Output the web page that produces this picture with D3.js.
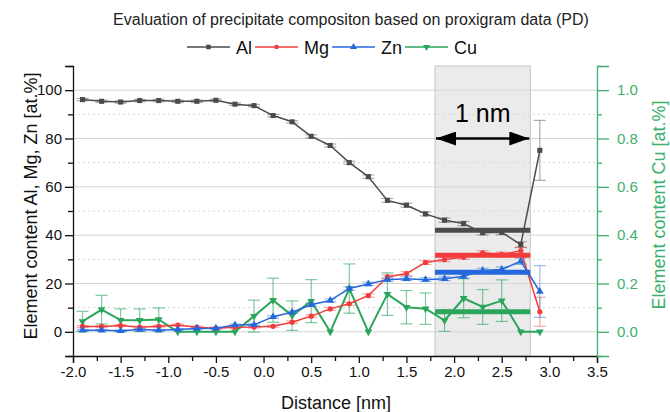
<!DOCTYPE html>
<html>
<head>
<meta charset="utf-8">
<script src="https://cdn.jsdelivr.net/npm/d3@7"></script>
<style>
  body { margin: 0; background: #fff; }
  svg text { font-family: "Liberation Sans", Arial, sans-serif; }
</style>
</head>
<body>
<svg id="chart" width="670" height="412"></svg>
<script>
// distances (nm)
var distance = [-1.9, -1.7, -1.5, -1.3, -1.1, -0.9, -0.7, -0.5, -0.3, -0.1, 0.1, 0.3, 0.5,
                0.7, 0.9, 1.1, 1.3, 1.5, 1.7, 1.9, 2.1, 2.3, 2.5, 2.7, 2.9];

// element content [at.%]
var al = [96.1, 95.4, 95.1, 95.7, 95.7, 95.4, 95.4, 95.8, 94.2, 93.6, 89.5, 86.9, 80.9,
          77.1, 70.0, 64.2, 54.4, 52.4, 48.8, 46.2, 44.8, 41.0, 41.2, 36.1, 75.1];
var alErr = [0.5, 0.5, 0.5, 0.5, 0.5, 0.5, 0.5, 0.5, 0.5, 0.5, 0.5, 0.5, 0.6,
             0.6, 0.6, 0.7, 0.8, 0.8, 0.8, 0.9, 0.9, 0.9, 1.0, 1.2, 12.4];
var mg = [2.2, 2.2, 2.6, 1.9, 2.3, 2.8, 1.9, 1.5, 1.9, 2.0, 2.3, 4.0, 6.5,
          9.5, 11.6, 15.0, 22.7, 24.1, 28.7, 29.9, 30.9, 32.7, 32.0, 33.6, 8.3];
var mgErr = [0.4, 0.4, 0.4, 0.4, 0.4, 0.4, 0.4, 0.4, 0.4, 0.4, 0.4, 0.5, 0.5,
             0.6, 0.6, 0.7, 0.8, 0.8, 0.8, 0.9, 0.9, 0.9, 1.0, 1.4, 6.0];
var zn = [0.7, 0.7, 0.4, 1.0, 0.7, 1.0, 1.4, 1.5, 2.8, 2.9, 6.2, 8.1, 11.2,
          13.0, 17.9, 19.8, 21.6, 22.0, 21.6, 22.0, 23.0, 25.4, 25.8, 29.2, 16.7];
var znErr = [0.3, 0.3, 0.3, 0.3, 0.3, 0.3, 0.3, 0.3, 0.4, 0.4, 0.5, 0.5, 0.6,
             0.6, 0.7, 0.7, 0.8, 0.8, 0.8, 0.8, 0.9, 0.9, 1.0, 1.3, 10.7];
// Cu on the right axis
var cu = [0.043, 0.092, 0.048, 0.048, 0.051, 0.0, 0.0, 0.0, 0.0, 0.065, 0.131, 0.067, 0.127,
          0.0, 0.179, 0.0, 0.156, 0.102, 0.096, 0.047, 0.139, 0.103, 0.129, 0.0, 0.0];
var cuErr = [0.042, 0.059, 0.047, 0.047, 0.048, 0, 0, 0, 0, 0.066, 0.091, 0.061, 0.089,
             0, 0.102, 0, 0.088, 0.069, 0.065, 0.045, 0.081, 0.072, 0.086, 0, 0];

// precipitate averages (1 nm window)
var bandRange = [1.8, 2.8];
var meanAl = 42.0, meanMg = 31.7, meanZn = 24.7, meanCu = 0.083;

// ticks
var xTicks = [-2.0, -1.5, -1.0, -0.5, 0.0, 0.5, 1.0, 1.5, 2.0, 2.5, 3.0, 3.5];
var xMinor = [-1.75, -1.25, -0.75, -0.25, 0.25, 0.75, 1.25, 1.75, 2.25, 2.75, 3.25];
var yTicks = [0, 20, 40, 60, 80, 100];
var yMinor = [-10, 10, 30, 50, 70, 90, 110];
var y2Ticks = [0.0, 0.2, 0.4, 0.6, 0.8, 1.0];
var y2Minor = [-0.1, 0.1, 0.3, 0.5, 0.7, 0.9, 1.1];

var cAl = "#4b4b4b", cMg = "#f23c3c", cZn = "#2468dc", cCu = "#2ba45c", cAxis2 = "#3cb06c";

var svg = d3.select("#chart");
var x = d3.scaleLinear().domain([-2, 3.5]).range([73, 597]);
var y = d3.scaleLinear().domain([-10, 110]).range([356, 66]);
var y2 = d3.scaleLinear().domain([-0.1, 1.1]).range([356, 66]);

// grid
svg.append("g").selectAll("line").data(yMinor.filter(function (d) { return d > -10 && d < 110; }))
  .join("line")
  .attr("x1", x(-2)).attr("x2", x(3.5))
  .attr("y1", function (d) { return y(d); }).attr("y2", function (d) { return y(d); })
  .attr("stroke", "#d6d6d6").attr("stroke-dasharray", "2,3");
svg.append("g").selectAll("line").data(yTicks)
  .join("line")
  .attr("x1", x(-2)).attr("x2", x(3.5))
  .attr("y1", function (d) { return y(d); }).attr("y2", function (d) { return y(d); })
  .attr("stroke", "#d4d4d4");

// 1 nm band
svg.append("rect")
  .attr("x", x(bandRange[0])).attr("y", y(110))
  .attr("width", x(bandRange[1]) - x(bandRange[0]))
  .attr("height", y(-10) - y(110))
  .attr("fill", "rgba(215,215,215,0.5)")
  .attr("stroke", "#c6c6c6");

// axes
function fmt1(d) { return d.toFixed(1); }
svg.append("g").attr("transform", "translate(0,356)")
  .call(d3.axisBottom(x).tickValues(xTicks).tickFormat(fmt1).tickSizeOuter(0).tickSize(7).tickPadding(3));
svg.append("g").attr("transform", "translate(0,356)")
  .call(d3.axisBottom(x).tickValues(xMinor).tickFormat("").tickSize(5))
  .select(".domain").remove();
svg.append("g").attr("transform", "translate(73,0)")
  .call(d3.axisLeft(y).tickValues(yTicks).tickSizeOuter(0).tickSize(8).tickPadding(3));
svg.append("g").attr("transform", "translate(73,0)")
  .call(d3.axisLeft(y).tickValues(yMinor).tickFormat("").tickSize(5))
  .select(".domain").remove();
var gy2 = svg.append("g").attr("class", "right").attr("transform", "translate(597,0)")
  .call(d3.axisRight(y2).tickValues(y2Ticks).tickFormat(fmt1).tickSizeOuter(0).tickSize(12).tickPadding(8));
svg.append("g").attr("class", "right").attr("transform", "translate(597,0)")
  .call(d3.axisRight(y2).tickValues(y2Minor).tickFormat("").tickSize(5))
  .select(".domain").remove();

svg.selectAll(".tick text").attr("font-size", 15).attr("fill", "#111")
  .attr("font-family", "'Liberation Sans', Arial, sans-serif");
svg.selectAll(".domain, .tick line").attr("stroke", "#111").attr("stroke-width", 1.3);
svg.selectAll(".right .domain, .right .tick line").attr("stroke", cAxis2);
gy2.selectAll(".tick text").attr("fill", cAxis2);

// axis titles
svg.append("text").attr("x", 336).attr("y", 409).attr("text-anchor", "middle")
  .attr("font-size", 18).attr("fill", "#111").text("Distance [nm]");
svg.append("text").attr("transform", "translate(37,206) rotate(-90)").attr("text-anchor", "middle")
  .attr("font-size", 18).attr("fill", "#111").text("Element content Al, Mg, Zn [at.%]");
svg.append("text").attr("transform", "translate(665,205) rotate(-90)").attr("text-anchor", "middle")
  .attr("font-size", 18).attr("fill", cAxis2).text("Element content Cu [at.%]");

// title
svg.append("text").attr("x", 351).attr("y", 25).attr("text-anchor", "middle")
  .attr("font-size", 16).attr("fill", "#222")
  .text("Evaluation of precipitate compositon based on proxigram data (PD)");

// error bars
function errorBars(vals, errs, ys, color) {
  var g = svg.append("g").attr("stroke", color).attr("stroke-width", 1.2);
  distance.forEach(function (d, i) {
    if (!errs[i]) return;
    var px = x(d), lo = ys(vals[i] - errs[i]), hi = ys(vals[i] + errs[i]);
    g.append("line").attr("x1", px).attr("x2", px).attr("y1", lo).attr("y2", hi);
    g.append("line").attr("x1", px - 6).attr("x2", px + 6).attr("y1", lo).attr("y2", lo);
    g.append("line").attr("x1", px - 6).attr("x2", px + 6).attr("y1", hi).attr("y2", hi);
  });
}
errorBars(cu, cuErr, y2, "rgba(43,164,92,0.6)");
errorBars(al, alErr, y, "rgba(75,75,75,0.45)");
errorBars(mg, mgErr, y, "rgba(242,60,60,0.45)");
errorBars(zn, znErr, y, "rgba(36,104,220,0.45)");

// series lines and markers
var series = [
  { name: "Al", vals: al, ys: y, color: cAl, sym: d3.symbolSquare, size: 26, w: 1.5 },
  { name: "Mg", vals: mg, ys: y, color: cMg, sym: d3.symbolCircle, size: 22, w: 1.5 },
  { name: "Zn", vals: zn, ys: y, color: cZn, sym: d3.symbolTriangle, size: 26, w: 1.5 },
  { name: "Cu", vals: cu, ys: y2, color: cCu, sym: d3.symbolTriangle, size: 26, w: 2, flip: true }
];

function drawSeries(s) {
  var line = d3.line()
    .x(function (d, i) { return x(distance[i]); })
    .y(function (d) { return s.ys(d); });
  svg.append("path").datum(s.vals)
    .attr("d", line).attr("fill", "none")
    .attr("stroke", s.color).attr("stroke-width", s.w).attr("stroke-linejoin", "round");
  svg.append("g").selectAll("path").data(s.vals).join("path")
    .attr("d", d3.symbol().type(s.sym).size(s.size))
    .attr("transform", function (d, i) {
      return "translate(" + x(distance[i]) + "," + s.ys(d) + ")" + (s.flip ? " rotate(180)" : "");
    })
    .attr("fill", s.color);
}
drawSeries(series[3]);
drawSeries(series[0]);
drawSeries(series[1]);
drawSeries(series[2]);

// average lines over the 1 nm window
var means = [
  { v: meanAl, ys: y, color: cAl },
  { v: meanMg, ys: y, color: cMg },
  { v: meanZn, ys: y, color: cZn },
  { v: meanCu, ys: y2, color: cCu }
];
svg.append("g").selectAll("line").data(means).join("line")
  .attr("x1", x(bandRange[0])).attr("x2", x(bandRange[1]))
  .attr("y1", function (d) { return d.ys(d.v); }).attr("y2", function (d) { return d.ys(d.v); })
  .attr("stroke", function (d) { return d.color; }).attr("stroke-width", 5);

// 1 nm arrow
svg.append("defs").append("marker")
  .attr("id", "head").attr("viewBox", "0 0 20 14").attr("refX", 20).attr("refY", 7)
  .attr("markerWidth", 20).attr("markerHeight", 14).attr("markerUnits", "userSpaceOnUse")
  .attr("orient", "auto-start-reverse")
  .append("path").attr("d", "M0,0 L20,7 L0,14 Z").attr("fill", "#000");
svg.append("line")
  .attr("x1", x(bandRange[0]) + 1).attr("x2", x(bandRange[1]) - 1)
  .attr("y1", y(80)).attr("y2", y(80))
  .attr("stroke", "#000").attr("stroke-width", 2.5)
  .attr("marker-start", "url(#head)").attr("marker-end", "url(#head)");
svg.append("text").attr("x", (x(bandRange[0]) + x(bandRange[1])) / 2).attr("y", 122)
  .attr("text-anchor", "middle").attr("font-size", 25).attr("fill", "#000").text("1 nm");

// legend
var lx = 187;
var legend = svg.append("g").attr("transform", "translate(0,47)");
series.forEach(function (s) {
  legend.append("line").attr("x1", lx).attr("x2", lx + 43).attr("y1", 0).attr("y2", 0)
    .attr("stroke", s.color).attr("stroke-width", 1.5);
  legend.append("path").attr("d", d3.symbol().type(s.sym).size(s.size * 0.8))
    .attr("transform", "translate(" + (lx + 21.5) + ",0)" + (s.flip ? " rotate(180)" : ""))
    .attr("fill", s.color);
  var t = legend.append("text").attr("x", lx + 49).attr("y", 7)
    .attr("font-size", 18).attr("fill", "#111").text(s.name);
  lx += 49 + t.node().getComputedTextLength() + 3;
});
</script>
</body>
</html>
